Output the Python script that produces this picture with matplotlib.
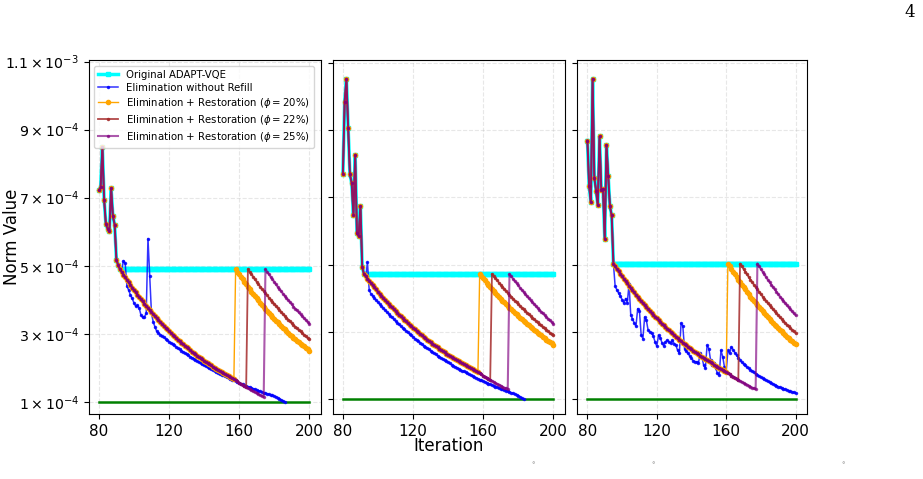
import numpy as np
import matplotlib.pyplot as plt

# all norm values below are in units of 1e-4
SCALE = 1e-4
iter_start = 80
iter_end = 200
threshold = 1.0

labels = [
    "Original ADAPT-VQE",
    "Elimination without Refill",
    r"Elimination + Restoration ($\phi = 20\%$)",
    r"Elimination + Restoration ($\phi = 22\%$)",
    r"Elimination + Restoration ($\phi = 25\%$)",
]
ytick_vals = [1, 3, 5, 7, 9, 11]
ytick_labels = [r"$1\times10^{-4}$", r"$3\times10^{-4}$", r"$5\times10^{-4}$",
                r"$7\times10^{-4}$", r"$9\times10^{-4}$", r"$1.1\times10^{-3}$"]
xtick_vals = [80, 120, 160, 200]

# ---------------- panel 1 ----------------
p1_head = [7.22, 7.31, 8.49, 6.94, 6.22, 6.09, 6.01, 7.27, 6.45, 6.21, 5.18, 5.02]
p1_level = 4.90
p1_blue = [4.92, 4.85, 5.15, 5.07, 4.41, 4.28, 4.14, 4.04, 3.91, 3.81,
           3.84, 3.76, 3.55, 3.48, 3.50, 3.60, 5.80, 4.70, 3.60,
           3.35, 3.20, 3.07, 3.03, 2.98, 2.94, 2.90, 2.86, 2.81, 2.77,
           2.73, 2.70, 2.66, 2.62, 2.58, 2.54, 2.51, 2.47, 2.44, 2.40,
           2.37, 2.33, 2.30, 2.27, 2.24, 2.20, 2.17, 2.14, 2.11, 2.08,
           2.05, 2.02, 1.99, 1.96, 1.94, 1.91, 1.88, 1.85, 1.83, 1.80,
           1.78, 1.75, 1.72, 1.70, 1.68, 1.65, 1.63, 1.61, 1.58, 1.56,
           1.54, 1.52, 1.49, 1.47, 1.45, 1.43, 1.41, 1.39, 1.37, 1.35,
           1.33, 1.31, 1.29, 1.27, 1.26, 1.24, 1.22, 1.20, 1.19, 1.17,
           1.15, 1.12, 1.09, 1.06, 1.03, 1.00]
p1_resto = [4.90, 4.82, 4.74, 4.66, 4.59, 4.51, 4.44, 4.36, 4.29, 4.22,
            4.15, 4.08, 4.02, 3.95, 3.88, 3.82, 3.76, 3.70, 3.64, 3.58,
            3.52, 3.46, 3.40, 3.35, 3.29, 3.24, 3.18, 3.13, 3.08, 3.03,
            2.98, 2.93, 2.88, 2.83, 2.79, 2.74, 2.70, 2.65, 2.61, 2.57,
            2.52, 2.48, 2.44, 2.40, 2.36, 2.32, 2.28, 2.25, 2.21, 2.17,
            2.14, 2.10, 2.07, 2.03, 2.00, 1.97, 1.94, 1.90, 1.87, 1.84,
            1.81, 1.78, 1.75, 1.72, 1.70, 1.67,
            1.63, 1.60, 1.56, 1.53, 1.50, 1.47, 1.43, 1.40, 1.37, 1.34,
            1.31, 1.29, 1.26, 1.23, 1.20, 1.18, 1.15]
p1_orange = [4.90, 4.82, 4.75, 4.67, 4.60, 4.52, 4.45, 4.38, 4.31, 4.24,
             4.18, 4.11, 4.04, 3.98, 3.92, 3.85, 3.79, 3.73, 3.67, 3.62,
             3.56, 3.50, 3.45, 3.39, 3.34, 3.28, 3.23, 3.18, 3.13, 3.08,
             3.03, 2.98, 2.94, 2.89, 2.84, 2.80, 2.75, 2.71, 2.67, 2.63,
             2.58, 2.54, 2.50]
p1_brown = [4.90, 4.82, 4.75, 4.68, 4.60, 4.53, 4.46, 4.39, 4.32, 4.26,
            4.19, 4.13, 4.06, 4.00, 3.94, 3.88, 3.82, 3.76, 3.70, 3.64,
            3.58, 3.53, 3.47, 3.42, 3.37, 3.31, 3.26, 3.21, 3.16, 3.11,
            3.07, 3.02, 2.97, 2.93, 2.88, 2.85]
p1_purple = [4.90, 4.82, 4.75, 4.67, 4.60, 4.53, 4.45, 4.38, 4.31, 4.25,
             4.18, 4.12, 4.05, 3.99, 3.93, 3.87, 3.80, 3.74, 3.69, 3.63,
             3.57, 3.52, 3.46, 3.41, 3.35, 3.30]
p1_jumps = [158, 165, 175]

# ---------------- panel 2 ----------------
p2_head = [7.70, 9.85, 10.52, 9.06, 7.68, 7.43, 6.46, 8.27, 5.93, 5.85, 6.74, 4.93, 4.72]
p2_level = 4.72
p2_blue = [4.62, 5.07, 4.23, 4.13,
           4.07, 4.00, 3.94, 3.88, 3.82, 3.76, 3.71, 3.65, 3.59, 3.54,
           3.48, 3.43, 3.38, 3.32, 3.27, 3.22, 3.17, 3.12, 3.08, 3.03,
           2.98, 2.94, 2.89, 2.85, 2.80, 2.76, 2.72, 2.68, 2.63, 2.59,
           2.55, 2.51, 2.48, 2.44, 2.40, 2.36, 2.33, 2.29, 2.26, 2.22,
           2.19, 2.15, 2.12, 2.09, 2.06, 2.02, 1.99, 1.96, 1.93, 1.90,
           1.87, 1.84, 1.82, 1.79, 1.76, 1.73, 1.71, 1.68, 1.65, 1.63,
           1.60, 1.58, 1.56, 1.53, 1.51, 1.48, 1.46, 1.44, 1.42, 1.40,
           1.37, 1.35, 1.33, 1.31, 1.29, 1.27, 1.25, 1.23, 1.21, 1.19,
           1.17, 1.15, 1.13, 1.10, 1.07, 1.03, 1.00]
p2_resto = [4.65, 4.58, 4.52, 4.45, 4.38, 4.32, 4.26, 4.19, 4.13, 4.07,
            4.01, 3.95, 3.89, 3.84, 3.78, 3.73, 3.67, 3.62, 3.56, 3.51,
            3.46, 3.41, 3.36, 3.31, 3.26, 3.21, 3.17, 3.12, 3.07, 3.03,
            2.98, 2.94, 2.90, 2.85, 2.81, 2.77, 2.73, 2.69, 2.65, 2.61,
            2.57, 2.54, 2.50, 2.46, 2.43, 2.39, 2.35, 2.32, 2.29, 2.25,
            2.22, 2.19, 2.15, 2.12, 2.09, 2.06, 2.03, 2.00, 1.97, 1.94,
            1.91, 1.89, 1.86, 1.83, 1.80,
            1.77, 1.73, 1.70, 1.67, 1.64, 1.60, 1.57, 1.54, 1.51, 1.48,
            1.45, 1.43, 1.40, 1.37, 1.34, 1.32, 1.29]
p2_orange = [4.72, 4.65, 4.59, 4.53, 4.46, 4.40, 4.34, 4.28, 4.22, 4.16,
             4.10, 4.05, 3.99, 3.93, 3.88, 3.83, 3.77, 3.72, 3.67, 3.62,
             3.57, 3.52, 3.47, 3.42, 3.37, 3.33, 3.28, 3.23, 3.19, 3.14,
             3.10, 3.06, 3.02, 2.97, 2.93, 2.89, 2.85, 2.81, 2.77, 2.73,
             2.70, 2.66, 2.62]
p2_brown = [4.72, 4.65, 4.59, 4.53, 4.46, 4.40, 4.34, 4.28, 4.22, 4.16,
            4.10, 4.05, 3.99, 3.93, 3.88, 3.83, 3.77, 3.72, 3.67, 3.62,
            3.57, 3.52, 3.47, 3.42, 3.37, 3.33, 3.28, 3.23, 3.19, 3.14,
            3.10, 3.06, 3.02, 2.97, 2.93, 2.89]
p2_purple = [4.72, 4.65, 4.58, 4.51, 4.45, 4.38, 4.31, 4.25, 4.19, 4.12,
             4.06, 4.00, 3.94, 3.88, 3.83, 3.77, 3.71, 3.66, 3.60, 3.55,
             3.50, 3.44, 3.39, 3.34, 3.29, 3.24]
p2_jumps = [158, 165, 175]

# ---------------- panel 3 ----------------
p3_head = [8.69, 7.33, 6.85, 10.53, 7.58, 7.20, 6.76, 8.81, 7.22, 7.25,
           5.77, 8.56, 7.63, 6.73, 6.46, 5.03]
p3_level = 5.03
p3_blue = [4.35, 4.25, 4.15, 4.06, 3.96, 3.86, 3.99, 3.86, 4.42, 3.49,
           3.39, 3.26, 3.17, 3.69, 3.62, 2.90, 2.80, 3.44, 3.34, 3.05,
           3.00, 2.97, 2.87, 2.70, 2.57, 2.90, 2.83, 2.67, 2.58, 2.70,
           2.75, 2.70, 2.67, 2.75, 2.65, 2.60, 2.45, 2.36, 3.26, 3.17,
           2.50, 2.43, 2.36, 2.28, 2.21, 2.14, 2.11, 2.11, 2.06, 2.36,
           2.26, 2.01, 1.91, 2.60, 2.50, 2.16, 2.01, 2.06, 1.91, 1.76,
           1.71, 2.45, 2.26, 1.96, 1.81, 2.45, 2.36, 2.55, 2.47, 2.38,
           2.30, 2.23, 2.16, 2.10, 2.05, 2.00, 1.95, 1.91, 1.87, 1.83,
           1.79, 1.75, 1.72, 1.68, 1.65, 1.62, 1.59, 1.56, 1.53, 1.50,
           1.47, 1.45, 1.42, 1.40, 1.37, 1.35, 1.33, 1.31, 1.29, 1.27,
           1.25, 1.23, 1.21, 1.20, 1.18]
p3_resto = [4.95, 4.87, 4.80, 4.72, 4.65, 4.58, 4.51, 4.44, 4.37, 4.30,
            4.23, 4.17, 4.10, 4.04, 3.97, 3.91, 3.85, 3.79, 3.73, 3.67,
            3.62, 3.56, 3.51, 3.45, 3.40, 3.34, 3.29, 3.24, 3.19, 3.14,
            3.09, 3.04, 3.00, 2.95, 2.90, 2.86, 2.81, 2.77, 2.73, 2.68,
            2.64, 2.60, 2.56, 2.52, 2.48, 2.44, 2.40, 2.37, 2.33, 2.29,
            2.26, 2.22, 2.19, 2.15, 2.12, 2.09, 2.06, 2.02, 1.99, 1.96,
            1.93, 1.90, 1.87, 1.84, 1.81,
            1.77, 1.74, 1.70, 1.67, 1.64, 1.61, 1.57, 1.54, 1.51, 1.48,
            1.45, 1.43, 1.40, 1.37, 1.34, 1.32, 1.29]
p3_orange = [5.03, 4.95, 4.87, 4.79, 4.71, 4.63, 4.55, 4.48, 4.40, 4.33,
             4.26, 4.19, 4.12, 4.05, 3.99, 3.92, 3.86, 3.79, 3.73, 3.67,
             3.61, 3.55, 3.49, 3.43, 3.38, 3.32, 3.27, 3.21, 3.16, 3.11,
             3.06, 3.01, 2.96, 2.91, 2.86, 2.81, 2.77, 2.72, 2.68, 2.63]
p3_brown = [5.03, 4.95, 4.87, 4.79, 4.71, 4.63, 4.55, 4.48, 4.40, 4.33,
            4.26, 4.19, 4.12, 4.05, 3.99, 3.92, 3.86, 3.79, 3.73, 3.67,
            3.61, 3.55, 3.49, 3.43, 3.38, 3.32, 3.27, 3.21, 3.16, 3.11,
            3.06, 3.01, 2.96]
p3_purple = [5.03, 4.95, 4.87, 4.79, 4.71, 4.63, 4.55, 4.48, 4.40, 4.33,
             4.26, 4.19, 4.12, 4.05, 3.99, 3.92, 3.86, 3.79, 3.73, 3.67,
             3.61, 3.55, 3.49]
p3_jumps = [161, 168, 178]

panels = [
    (p1_head, p1_level, p1_blue, p1_resto, [p1_orange, p1_brown, p1_purple], p1_jumps),
    (p2_head, p2_level, p2_blue, p2_resto, [p2_orange, p2_brown, p2_purple], p2_jumps),
    (p3_head, p3_level, p3_blue, p3_resto, [p3_orange, p3_brown, p3_purple], p3_jumps),
]
ylims = [(0.645, 11.03), (0.555, 11.07), (0.555, 11.07)]

resto_styles = [
    dict(color="orange", marker="o", markersize=3, linewidth=1),
    dict(color="brown", marker=".", markersize=3, linewidth=1.3, alpha=0.85),
    dict(color="purple", marker=".", markersize=3, linewidth=1.5, alpha=0.65),
]


def series(head, tail):
    vals = np.array(head + tail) * SCALE
    its = np.arange(iter_start, iter_start + len(vals))
    return its, vals


fig = plt.figure(figsize=(9.23, 4.79), dpi=100)
ax_rects = [[0.0961, 0.1357, 0.2519, 0.738],
            [0.3605, 0.1357, 0.2519, 0.738],
            [0.6255, 0.1357, 0.2492, 0.738]]

axes = []
for i, (head, level, blue, resto, posts, jumps) in enumerate(panels):
    ax = fig.add_axes(ax_rects[i])
    axes.append(ax)
    n0 = iter_start + len(head)

    ax.plot([iter_start, iter_end], [threshold * SCALE] * 2, color="green", linewidth=1.8)
    ax.plot(*series(head, [level] * (iter_end + 1 - n0)), color="cyan", marker="s",
            markersize=3, linewidth=2.5, label=labels[0])
    ax.plot(*series(head, blue), color="blue", marker=".", markersize=3,
            linewidth=1.1, alpha=0.8, label=labels[1])
    for post, jump, style, lab in zip(posts, jumps, resto_styles, labels[2:]):
        ax.plot(*series(head, resto[:jump - n0] + post), label=lab, **style)

    ax.set_xlim(74.2, 206.8)
    ax.set_ylim(ylims[i][0] * SCALE, ylims[i][1] * SCALE)
    ax.set_xticks(xtick_vals)
    ax.set_yticks(np.array(ytick_vals) * SCALE)
    if i == 0:
        ax.set_yticklabels(ytick_labels)
        ax.set_ylabel("Norm Value", fontsize=12)
        ax.yaxis.set_label_coords(-0.291, 0.5)
    else:
        ax.set_yticklabels([])
    if i == 1:
        ax.set_xlabel("Iteration", fontsize=12, labelpad=-1)
    ax.tick_params(axis="x", labelsize=11)
    ax.tick_params(axis="y", labelsize=10.2)
    ax.grid(True, linestyle="--", alpha=0.3)

axes[0].legend(loc="upper left", fontsize=7.3, labelspacing=0.3, framealpha=0.8)

fig.text(0.991, 0.992, "4", family="DejaVu Serif", fontsize=12, ha="right", va="top")
for xf in [0.5775, 0.7075, 0.9135]:
    fig.text(xf, 0.025, "°", fontsize=5, color="gray", ha="center")

fig.savefig("out.png", dpi=100)
